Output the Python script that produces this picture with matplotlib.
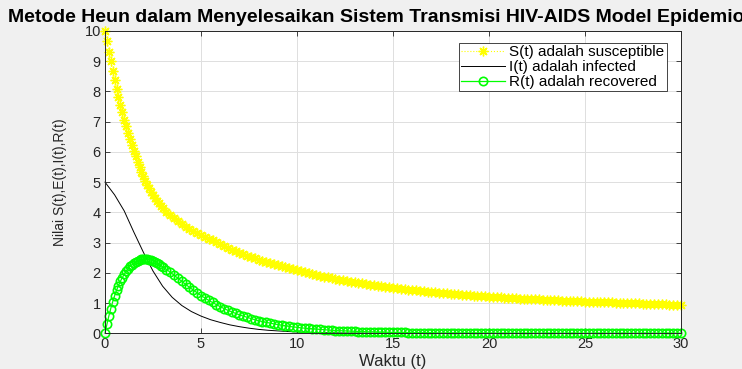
import numpy as np
import matplotlib
matplotlib.use('Agg')
import matplotlib.pyplot as plt

plt.rcParams['font.family'] = ['Liberation Sans', 'DejaVu Sans']

# time grid: 0.1 steps up to t=2.9, then 0.2 steps up to 30
t_early = np.round(np.arange(0, 3.0, 0.1), 1)
t_late = np.linspace(3.0, 30.0, 136)
# I(t) read at 0.5 steps (line only, no markers)
t_inf = np.linspace(0, 30, 61)

s_early = [10.00, 9.66, 9.31, 8.99, 8.67, 8.37, 8.09, 7.82, 7.56, 7.31,
           7.07, 6.85, 6.63, 6.42, 6.22, 6.03, 5.85, 5.67, 5.50, 5.34,
           5.19, 5.05, 4.92, 4.80, 4.69, 4.58, 4.48, 4.39, 4.30, 4.22]
s_late = [4.15, 4.02, 3.90, 3.80, 3.70, 3.61, 3.53, 3.45, 3.38, 3.31,
          3.25, 3.19, 3.13, 3.07, 3.01, 2.94, 2.88, 2.83, 2.77, 2.72,
          2.67, 2.62, 2.57, 2.53, 2.48, 2.44, 2.40, 2.36, 2.32, 2.28,
          2.25, 2.21, 2.18, 2.15, 2.12, 2.08, 2.05, 2.02, 1.99, 1.96,
          1.93, 1.90, 1.87, 1.85, 1.82, 1.80, 1.77, 1.75, 1.73, 1.71,
          1.69, 1.67, 1.65, 1.63, 1.61, 1.59, 1.57, 1.55, 1.53, 1.52,
          1.50, 1.49, 1.47, 1.46, 1.44, 1.43, 1.42, 1.40, 1.39, 1.38,
          1.37, 1.35, 1.34, 1.33, 1.32, 1.31, 1.30, 1.29, 1.28, 1.27,
          1.26, 1.25, 1.24, 1.23, 1.22, 1.21, 1.20, 1.20, 1.19, 1.18,
          1.17, 1.17, 1.16, 1.15, 1.14, 1.14, 1.13, 1.12, 1.12, 1.11,
          1.10, 1.10, 1.09, 1.09, 1.08, 1.08, 1.07, 1.07, 1.06, 1.06,
          1.05, 1.05, 1.04, 1.04, 1.03, 1.03, 1.02, 1.02, 1.01, 1.01,
          1.00, 1.00, 0.99, 0.99, 0.99, 0.98, 0.98, 0.97, 0.97, 0.97,
          0.96, 0.96, 0.95, 0.95, 0.95, 0.94]

i_vals = [5.00, 4.58, 4.05, 3.35, 2.68, 2.06, 1.56, 1.19, 0.92, 0.72,
          0.57, 0.45, 0.36, 0.28, 0.22, 0.17, 0.13, 0.10, 0.08, 0.06,
          0.045, 0.035, 0.025, 0.02, 0.015, 0.01, 0.008, 0.006, 0.004, 0.003,
          0.002, 0.002, 0.001, 0.001, 0.001, 0.0, 0.0, 0.0, 0.0, 0.0,
          0.0, 0.0, 0.0, 0.0, 0.0, 0.0, 0.0, 0.0, 0.0, 0.0,
          0.0, 0.0, 0.0, 0.0, 0.0, 0.0, 0.0, 0.0, 0.0, 0.0,
          0.0]

r_early = [0.00, 0.30, 0.57, 0.82, 1.04, 1.24, 1.42, 1.58, 1.72, 1.84,
           1.95, 2.05, 2.13, 2.21, 2.27, 2.32, 2.37, 2.40, 2.43, 2.45,
           2.46, 2.46, 2.45, 2.44, 2.42, 2.39, 2.36, 2.32, 2.28, 2.24]
r_late = [2.20, 2.11, 2.02, 1.92, 1.82, 1.72, 1.62, 1.52, 1.43, 1.34,
          1.25, 1.17, 1.09, 1.02, 0.95, 0.88, 0.82, 0.76, 0.71, 0.66,
          0.61, 0.57, 0.53, 0.49, 0.45, 0.42, 0.39, 0.36, 0.34, 0.31,
          0.29, 0.27, 0.25, 0.23, 0.21, 0.20, 0.18, 0.17, 0.16, 0.15,
          0.14, 0.13, 0.12, 0.11, 0.10, 0.09, 0.09, 0.08, 0.08, 0.07,
          0.07, 0.06, 0.06, 0.05, 0.05, 0.05, 0.04, 0.04, 0.04, 0.03,
          0.03, 0.03, 0.03, 0.03, 0.02, 0.02, 0.02, 0.02, 0.02, 0.02,
          0.02, 0.01, 0.01, 0.01, 0.01, 0.01, 0.01, 0.01, 0.01, 0.01,
          0.01, 0.01, 0.01, 0.01, 0.01, 0.01, 0.01, 0.00, 0.00, 0.00,
          0.00, 0.00, 0.00, 0.00, 0.00, 0.00, 0.00, 0.00, 0.00, 0.00,
          0.00, 0.00, 0.00, 0.00, 0.00, 0.00, 0.00, 0.00, 0.00, 0.00,
          0.00, 0.00, 0.00, 0.00, 0.00, 0.00, 0.00, 0.00, 0.00, 0.00,
          0.00, 0.00, 0.00, 0.00, 0.00, 0.00, 0.00, 0.00, 0.00, 0.00,
          0.00, 0.00, 0.00, 0.00, 0.00, 0.00]

t = np.concatenate([t_early, t_late])
S = np.array(s_early + s_late)
R = np.array(r_early + r_late)
I = np.array(i_vals)

title_text = 'Metode Heun dalam Menyelesaikan Sistem Transmisi HIV-AIDS Model Epidemiologi'
legend_labels = ['S(t) adalah susceptible', 'I(t) adalah infected', 'R(t) adalah recovered']

fig = plt.figure(figsize=(7.42, 3.69), dpi=100, facecolor='#f0f0f0')
ax = fig.add_axes([0.1415, 0.0967, 0.7763, 0.8194])
ax.set_facecolor('white')

asterisk = (8, 2, 0)
ax.plot(t, S, color='#ffff00', linestyle=':', linewidth=0.8, marker=asterisk,
        markersize=7, markeredgewidth=1.0, clip_on=False, label=legend_labels[0])
ax.plot(t_inf, I, color='black', linewidth=0.7, clip_on=False, label=legend_labels[1])
ax.plot(t, R, color='#00ff00', linestyle='-', linewidth=0.9, marker='o',
        markersize=6, markerfacecolor='none', markeredgewidth=1.2,
        clip_on=False, label=legend_labels[2])

ax.set_xlim(0, 30)
ax.set_ylim(0, 10)
ax.set_xticks(np.arange(0, 31, 5))
ax.set_yticks(np.arange(0, 11, 1))
ax.grid(True, color='#dfdfdf', linewidth=0.7)
ax.set_axisbelow(True)
ax.tick_params(direction='in', length=3.5, width=0.6, colors='#262626',
               labelsize=10.5, top=True, right=True, pad=3)
for sp in ax.spines.values():
    sp.set_color('#262626')
    sp.set_linewidth(0.7)

# title overflows the figure on both sides, as in the original export
ax.set_title(title_text, fontsize=14, fontweight='bold', color='black', pad=6.5)
ax.set_xlabel('Waktu (t)', fontsize=12, color='#262626')
ax.xaxis.set_label_coords(0.5, -0.068)
ax.set_ylabel('Nilai S(t),E(t),I(t),R(t)', fontsize=10, color='#262626')
ax.yaxis.set_label_coords(-0.066, 0.5)

leg = ax.legend(loc='upper right', bbox_to_anchor=(0.975, 0.96), borderaxespad=0,
                fontsize=11, handlelength=2.9, labelspacing=0.05, fancybox=False,
                framealpha=1, edgecolor='#262626', borderpad=0.15, handletextpad=0.25)
leg.get_frame().set_linewidth(0.6)

fig.savefig('out.png', dpi=100, facecolor=fig.get_facecolor())
